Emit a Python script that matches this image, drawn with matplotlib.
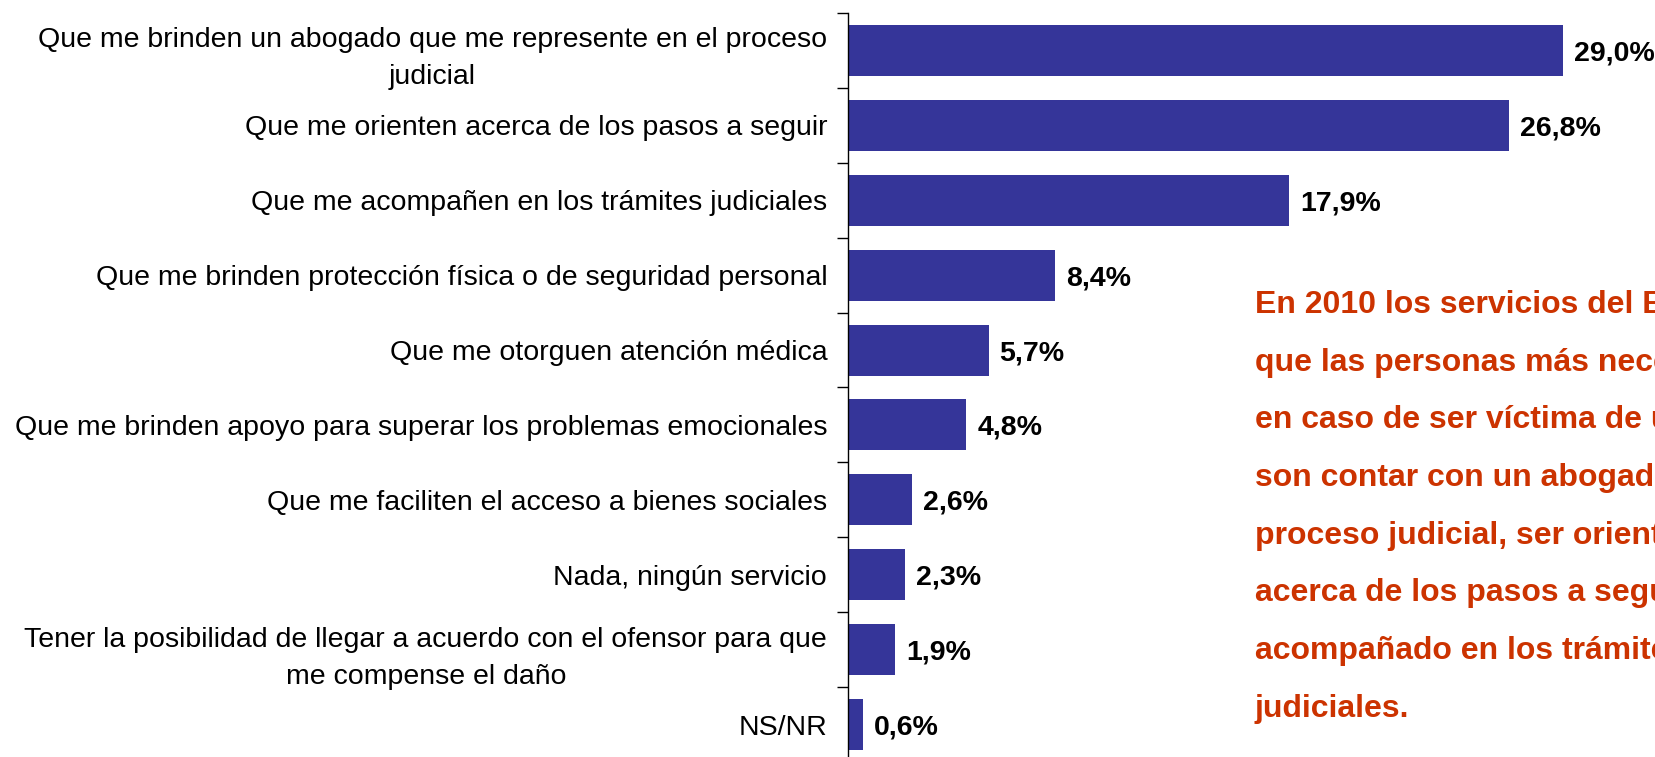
import numpy as np
import matplotlib.pyplot as plt

plt.rcParams['font.family'] = ['Liberation Sans', 'DejaVu Sans']

categorias = [
    'Que me brinden un abogado que me represente en el proceso\njudicial',
    'Que me orienten acerca de los pasos a seguir',
    'Que me acompañen en los trámites judiciales',
    'Que me brinden protección física o de seguridad personal',
    'Que me otorguen atención médica',
    'Que me brinden apoyo para superar los problemas emocionales',
    'Que me faciliten el acceso a bienes sociales',
    'Nada, ningún servicio',
    'Tener la posibilidad de llegar a acuerdo con el ofensor para que\nme compense el daño',
    'NS/NR',
]
porcentajes = [29.0, 26.8, 17.9, 8.4, 5.7, 4.8, 2.6, 2.3, 1.9, 0.6]
etiquetas = ['29,0%', '26,8%', '17,9%', '8,4%', '5,7%', '4,8%', '2,6%', '2,3%', '1,9%', '0,6%']

nota = ['En 2010 los servicios del Estado',
        'que las personas más necesitarían',
        'en caso de ser víctima de un delito',
        'son contar con un abogado en el',
        'proceso judicial, ser orientado',
        'acerca de los pasos a seguir y ser',
        'acompañado en los trámites',
        'judiciales.']

fig = plt.figure(figsize=(16.56, 7.57), dpi=100)
ax = fig.add_axes([848 / 1656, -5 / 757, 1 - 848 / 1656, 1 - 13 / 757 + 5 / 757])

y = np.arange(len(categorias))
ax.barh(y, porcentajes, height=0.68, color='#353599')

for yi, v, t in zip(y, porcentajes, etiquetas):
    ax.text(v + 0.45, yi + 0.04, t, ha='left', va='center', fontsize=20.5,
            fontweight='bold', color='black')

ax.set_xlim(0, 32.77)
ax.set_ylim(len(categorias) - 0.5, -0.5)

ax.set_yticks(y)
ax.set_yticklabels(categorias, fontsize=20.5)
for lab in ax.get_yticklabels():
    lab.set_multialignment('center')
    lab.set_linespacing(1.55)
ax.set_yticks(np.arange(-0.5, len(categorias), 1), minor=True)
ax.tick_params(axis='y', which='major', length=0, pad=15)
ax.tick_params(axis='y', which='minor', length=8, width=1, direction='out')
ax.set_xticks([])

for s in ['top', 'right', 'bottom']:
    ax.spines[s].set_visible(False)
ax.spines['left'].set_linewidth(1)

for i, linea in enumerate(nota):
    fig.text(1255 / 1656, 1 - (313 + i * 57.7) / 757, linea, ha='left',
             va='baseline', fontsize=23, fontweight='bold', color='#CC3300')

fig.savefig('out.png', dpi=100)
